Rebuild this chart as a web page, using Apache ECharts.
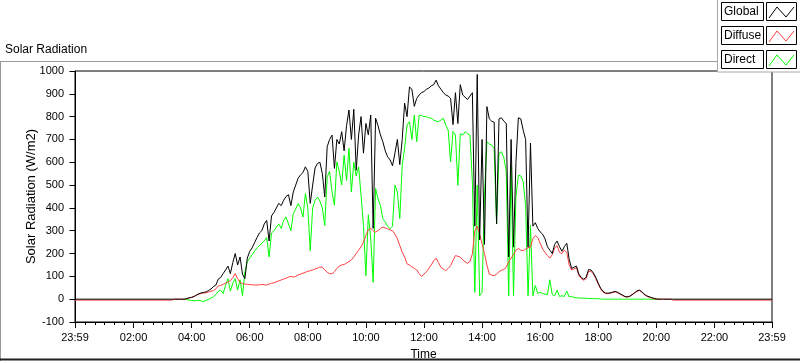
<!DOCTYPE html>
<html><head><meta charset="utf-8">
<script src="https://cdn.jsdelivr.net/npm/echarts@6/dist/echarts.min.js"></script>
<style>html,body{margin:0;padding:0;background:#fff}#c{width:800px;height:361px}</style>
</head><body><div id="c"></div>
<script>
// ---- data (minutes after midnight; -1 = 23:59 previous day) ----
const nightAmTimes   = [-1, 200, 205, 215];
const nightAmGlobal  = [0, 0, 0, 0];
const nightAmDiffuse = [-4, -4, 0, 0];
const nightAmDirect  = [null, null, null, null];   // hidden under Global at night

const dayStart = 225;   // 03:45, samples every 5 min to 20:15
const dayStep = 5;

const dayGlobal = [
0,3,6,8,12,18,24,28,30,32,38,45,55,62,88,95,112,128,145,112,160,200,150,185,110,90,180,210,225,248,
270,290,300,330,345,255,365,380,400,420,410,433,450,458,410,470,500,530,545,555,580,560,420,500,575,595,600,550,448,668,
700,719,573,700,680,734,650,760,829,700,832,565,720,800,640,770,720,807,310,793,760,720,690,650,624,610,585,640,700,590,
700,859,800,930,920,845,880,895,905,910,920,925,935,940,960,935,920,905,895,890,880,765,905,770,940,895,885,875,890,905,
320,985,260,700,240,844,790,780,775,330,790,795,780,770,185,700,228,600,795,790,740,700,228,684,320,335,310,295,285,265,
230,215,200,240,255,230,210,230,245,175,135,140,145,110,95,88,96,130,128,115,95,70,48,34,27,26,28,31,34,30,
24,18,12,10,13,20,28,36,40,33,22,15,11,7,4,1,0,0,0];

const dayDiffuse = [
0,2,5,8,12,18,22,25,27,28,32,35,37,45,58,60,65,70,75,81,95,112,90,75,68,66,65,64,63,62,
62,63,65,63,62,66,70,72,76,80,84,88,92,96,100,97,100,106,110,114,118,122,125,128,132,136,141,140,128,118,
112,111,120,135,145,150,152,158,165,172,185,200,215,230,250,280,305,310,300,294,300,310,316,312,308,304,300,285,265,235,
206,185,155,150,142,135,128,112,100,110,120,135,150,168,180,160,140,132,125,135,147,170,191,188,184,172,163,157,165,199,
300,320,285,243,200,150,110,105,103,110,120,127,130,140,165,180,195,215,222,215,213,220,225,228,265,279,270,245,220,205,
191,180,195,225,235,205,200,215,205,150,128,133,138,104,90,83,90,122,122,110,90,66,45,31,25,24,26,29,32,28,
22,16,11,9,12,19,26,34,38,31,20,13,9,5,2,0,0,0,0];

const dayDirect = [
0,-2,-4,-6,-7,-6,-5,-8,-10,-5,0,5,10,20,35,40,25,60,90,35,70,90,40,85,15,120,165,180,195,210,
225,235,245,255,270,185,290,300,315,330,310,345,360,330,300,375,395,419,400,360,463,400,213,400,433,448,430,400,323,536,
560,470,411,602,560,500,631,520,661,470,600,540,580,455,323,103,370,265,74,485,440,411,353,338,320,309,320,500,470,353,
587,661,763,778,700,807,690,807,805,800,800,795,793,785,780,778,785,793,763,741,602,735,719,499,725,719,734,725,719,514,
30,500,15,30,455,690,680,675,660,330,640,646,620,560,15,587,15,450,543,540,514,411,15,323,15,60,25,30,25,22,
20,85,20,15,40,12,15,12,35,10,12,8,6,5,5,4,4,3,3,3,2,2,1,0,0,0,0,0,0,0,
0,0,0,0,0,0,0,0,0,0,0,0,0,0,0,0,0,null,null];

const nightPmTimes   = [1230, 1235, 1439];
const nightPmGlobal  = [0, 0, 0];
const nightPmDiffuse = [0, -4, -4];
const nightPmDirect  = [null, null, null];

const majorTicks = [-1, 120, 240, 360, 480, 600, 720, 840, 960, 1080, 1200, 1320, 1439];
const tickLabels = ['23:59','02:00','04:00','06:00','08:00','10:00','12:00','14:00','16:00','18:00','20:00','22:00','23:59'];
const yTicks = [-100, 0, 100, 200, 300, 400, 500, 600, 700, 800, 900, 1000];

// ---- build ----
const dayTimes = dayGlobal.map((_, i) => dayStart + i * dayStep);
const times = nightAmTimes.concat(dayTimes, nightPmTimes);
const gAll = nightAmGlobal.concat(dayGlobal, nightPmGlobal);
const dAll = nightAmDiffuse.concat(dayDiffuse, nightPmDiffuse);
const rAll = nightAmDirect.concat(dayDirect, nightPmDirect);
const pairs = arr => times.map((t, i) => [t, arr[i] === null ? '-' : arr[i]]);
const minorTicks = [];
for (let m = 20; m < 1439; m += 20) if (m % 120 !== 0) minorTicks.push(m);

const FONT = 'Liberation Sans';
const chart = echarts.init(document.getElementById('c'), null, {renderer: 'canvas'});

function legendRow(y, label, color) {
  return [
    {type: 'rect', shape: {x: 721.5, y: y + 0.5, width: 42, height: 18},
     style: {fill: '#fff', stroke: '#000', lineWidth: 1}, z: 102},
    {type: 'text', x: 724, y: y + 10, style: {text: label, font: '12px ' + FONT, fill: '#000', verticalAlign: 'middle'}, z: 103},
    {type: 'rect', shape: {x: 766.5, y: y + 0.5, width: 30, height: 18},
     style: {fill: '#fff', stroke: '#000', lineWidth: 1}, z: 102},
    {type: 'polyline', shape: {points: [[769, y + 16], [777, y + 5], [786, y + 15], [794, y + 5]]},
     style: {stroke: color, lineWidth: 1, fill: null}, z: 103}
  ];
}

chart.setOption({
  animation: false,
  backgroundColor: '#fff',
  textStyle: {fontFamily: FONT},
  grid: {left: 75, right: 28, top: 71, bottom: 39, show: true, borderColor: '#000', borderWidth: 1,
         backgroundColor: '#fff', containLabel: false, outerBoundsMode: 'none'},
  xAxis: [{
    type: 'value', min: -1, max: 1439,
    name: 'Time', nameLocation: 'middle', nameGap: 27, nameMoveOverlap: false,
    nameTextStyle: {fontSize: 12, color: '#000', fontFamily: FONT},
    axisLine: {show: true, onZero: false, lineStyle: {color: '#000', width: 1}},
    axisTick: {show: true, length: 6, customValues: majorTicks, lineStyle: {color: '#000'}},
    axisLabel: {show: true, customValues: majorTicks, margin: 10, fontSize: 11, color: '#000', fontFamily: FONT,
      formatter: v => tickLabels[majorTicks.indexOf(v)] || ''},
    splitLine: {show: false}
  }, {
    type: 'value', min: -1, max: 1439, position: 'bottom',
    axisLine: {show: false, onZero: false},
    axisTick: {show: true, length: 3, customValues: minorTicks, lineStyle: {color: '#000'}},
    axisLabel: {show: false},
    splitLine: {show: false}
  }],
  yAxis: {
    type: 'value', min: -100, max: 1000, interval: 100,
    name: 'Solar Radiation (W/m2)', nameLocation: 'middle', nameGap: 37, nameRotate: 90, nameMoveOverlap: false,
    nameTextStyle: {fontSize: 13, color: '#000', fontFamily: FONT},
    axisLine: {show: true, lineStyle: {color: '#000'}},
    axisTick: {show: true, length: 6, lineStyle: {color: '#000'}},
    axisLabel: {margin: 11, fontSize: 11, color: '#000', fontFamily: FONT,
      formatter: v => (yTicks.indexOf(v) >= 0 ? String(v) : '')},
    splitLine: {show: false}
  },
  series: [
    {name: 'Direct', type: 'line', data: pairs(rAll), showSymbol: false, symbol: 'none', connectNulls: false,
     lineStyle: {color: '#00ff00', width: 1}, itemStyle: {color: '#00ff00'}},
    {name: 'Diffuse', type: 'line', data: pairs(dAll), showSymbol: false, symbol: 'none',
     lineStyle: {color: '#ff4040', width: 1}, itemStyle: {color: '#ff4040'}},
    {name: 'Global', type: 'line', data: pairs(gAll), showSymbol: false, symbol: 'none',
     lineStyle: {color: '#000000', width: 1}, itemStyle: {color: '#000'}}
  ],
  graphic: [
    {type: 'text', left: 5, top: 44, style: {text: 'Solar Radiation', font: '12px ' + FONT, fill: '#000'}, z: 100},
    {type: 'line', shape: {x1: 0, y1: 61.5, x2: 800, y2: 61.5}, style: {stroke: '#9a9a9a', lineWidth: 1}, z: 90},
    {type: 'line', shape: {x1: 0.5, y1: 61.5, x2: 0.5, y2: 361}, style: {stroke: '#9a9a9a', lineWidth: 1}, z: 90},
    {type: 'line', shape: {x1: 0, y1: 359.5, x2: 800, y2: 359.5}, style: {stroke: '#202020', lineWidth: 2}, z: 90},
    {type: 'rect', shape: {x: 717.5, y: -1, width: 90, height: 73}, style: {fill: '#fff', stroke: '#a8a8a8', lineWidth: 1}, z: 101}
  ].concat(legendRow(2, 'Global', '#000000'), legendRow(26, 'Diffuse', '#ff4040'), legendRow(50, 'Direct', '#00ff00'))
});
</script>
</body></html>
